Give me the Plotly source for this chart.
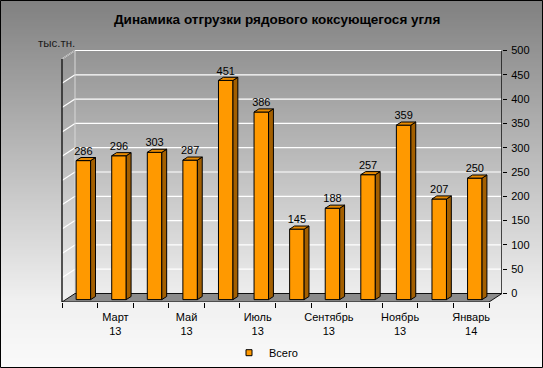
import plotly.graph_objects as go

# ---------------- data ----------------
months = ["Февраль 13", "Март 13", "Апрель 13", "Май 13", "Июнь 13", "Июль 13",
          "Август 13", "Сентябрь 13", "Октябрь 13", "Ноябрь 13", "Декабрь 13", "Январь 14"]
values = [286, 296, 303, 287, 451, 386, 145, 188, 257, 359, 207, 250]
y_ticks = [0, 50, 100, 150, 200, 250, 300, 350, 400, 450, 500]
series_name = "Всего"
title_text = "Динамика отгрузки рядового коксующегося угля"
unit_text = "тыс.тн."

# ---------------- layout geometry (pixels) ----------------
W, H = 543, 368
ML, MR, MT, MB = 50, 41, 45, 66
PW, PH = W - ML - MR, H - MT - MB
BACK_L, BACK_R = 75, W - MR          # back wall horizontal extent
Y0_PX, YMAX_PX = 293.5, 50.5          # back wall: 0 and 500
n = len(values)
U = (BACK_R - BACK_L) / n             # px per category
K = (Y0_PX - YMAX_PX) / y_ticks[-1]   # px per value unit
PLOT_BOTTOM = H - MB

x_range = [-0.5 - (BACK_L - ML) / U, -0.5 + (ML + PW - BACK_L) / U]
y_range = [-(PLOT_BOTTOM - Y0_PX) / K, (Y0_PX - MT) / K]


def off(dx_px, dy_px):
    return dx_px / U, -dy_px / K


FX, FY = off(-13, 8.5)      # front plane offset
BX, BY = off(-9.4, 6.1)     # bar front face offset
BBX, BBY = off(-4.55, 3.0)  # bar back face offset
BW = 14.5 / U
DX, DY = BBX - BX, BBY - BY
XL, XR = -0.5, n - 0.5
YTOP = y_ticks[-1]

FONT = "Arial, Liberation Sans, sans-serif"

fig = go.Figure()

# bar front faces
fig.add_trace(go.Bar(
    x=[i + BX for i in range(n)], y=values, base=BY, width=BW,
    marker=dict(color="#FF9900", line=dict(color="black", width=1)),
    showlegend=False, hoverinfo="skip"))

# side faces and top faces
sx, sy, tx, ty = [], [], [], []
for i, v in enumerate(values):
    xl = i + BX - BW / 2
    xr = i + BX + BW / 2
    sx += [xr, xr + DX, xr + DX, xr, xr, None]
    sy += [BY, BBY, v + BBY, v + BY, BY, None]
    tx += [xl, xl + DX, xr + DX, xr, xl, None]
    ty += [v + BY, v + BBY, v + BBY, v + BY, v + BY, None]
fig.add_trace(go.Scatter(x=sx, y=sy, mode="lines", fill="toself", fillcolor="#A35F00",
                         line=dict(color="black", width=1), showlegend=False, hoverinfo="skip"))
fig.add_trace(go.Scatter(x=tx, y=ty, mode="lines", fill="toself", fillcolor="#E88A00",
                         line=dict(color="black", width=1), showlegend=False, hoverinfo="skip"))

# data labels
fig.add_trace(go.Scatter(
    x=[i + BX for i in range(n)], y=[v + BBY for v in values], mode="text",
    text=[str(v) for v in values], textposition="top center",
    textfont=dict(family=FONT, size=11, color="black"),
    cliponaxis=False, showlegend=False, hoverinfo="skip"))

# legend entry
fig.add_trace(go.Scatter(
    x=[None], y=[None], mode="markers", name=series_name,
    marker=dict(symbol="square", size=6, color="#FF9900", line=dict(color="black", width=1))))

# ---------------- background & frame shapes ----------------
shapes = []


def py2paper(py):
    return (PLOT_BOTTOM - py) / PH


def px2paper(px):
    return (px - ML) / PW


def gray(py):
    if py <= 300:
        g = 128 + (240 - 128) * py / 300
    else:
        g = 240 + (250 - 240) * (py - 300) / (H - 300)
    g = int(round(g))
    return f"rgb({g},{g},{g})"


step = 2
for py in range(0, H, step):
    shapes.append(dict(type="rect", xref="paper", yref="paper", layer="below",
                       x0=px2paper(0), x1=px2paper(W),
                       y0=py2paper(py + step), y1=py2paper(py),
                       fillcolor=gray(py + step / 2), line=dict(width=0)))

# gridlines on back wall and side wall
for v in y_ticks:
    if v > 0:
        shapes.append(dict(type="line", xref="x", yref="y", layer="below",
                           x0=XL, x1=XR, y0=v, y1=v, line=dict(color="white", width=1.2)))
    shapes.append(dict(type="line", xref="x", yref="y", layer="below",
                       x0=XL + FX, x1=XL, y0=v + FY, y1=v, line=dict(color="white", width=1.2)))
# side wall back edge and top edge
shapes.append(dict(type="line", xref="x", yref="y", layer="below",
                   x0=XL, x1=XL, y0=0, y1=YTOP, line=dict(color="#d8d8d8", width=1)))
shapes.append(dict(type="line", xref="x", yref="y", layer="below",
                   x0=XL + FX, x1=XL, y0=YTOP + FY, y1=YTOP, line=dict(color="#a0a0a0", width=1)))
# side wall front edge
shapes.append(dict(type="line", xref="x", yref="y", layer="below",
                   x0=XL + FX, x1=XL + FX, y0=FY, y1=YTOP + FY, line=dict(color="#202020", width=1.5)))
# floor
shapes.append(dict(type="path", xref="x", yref="y", layer="below",
                   path=f"M{XL + FX},{FY} L{XR + FX},{FY} L{XR},0 L{XL},0 Z",
                   fillcolor="#8c8c8c", line=dict(color="#101010", width=1)))
# right value axis line
shapes.append(dict(type="line", xref="x", yref="y", layer="above",
                   x0=XR, x1=XR, y0=0, y1=YTOP, line=dict(color="#101010", width=1.5)))
# outer border
shapes.append(dict(type="rect", xref="paper", yref="paper", layer="above",
                   x0=px2paper(0.5), x1=px2paper(W - 0.5),
                   y0=py2paper(H - 0.5), y1=py2paper(0.5),
                   line=dict(color="black", width=1), fillcolor="rgba(0,0,0,0)"))

label_idx = list(range(1, n, 2))
fig.update_layout(
    width=W, height=H,
    margin=dict(l=ML, r=MR, t=MT, b=MB, pad=0, autoexpand=False),
    paper_bgcolor="white", plot_bgcolor="rgba(0,0,0,0)",
    shapes=shapes,
    font=dict(family=FONT, size=11, color="black"),
    xaxis=dict(range=x_range, showgrid=False, zeroline=False, showline=False,
               automargin=False, tickmode="array",
               tickvals=[i + FX for i in label_idx],
               ticktext=[months[i].replace(" ", "<br>") for i in label_idx],
               ticks="", ticklabelstandoff=7,
               tickfont=dict(family=FONT, size=11, color="black")),
    yaxis=dict(range=y_range, side="right", showgrid=False, zeroline=False, showline=False,
               automargin=False, tickmode="array", tickvals=y_ticks, ticks="outside",
               ticklen=4, tickcolor="black", ticklabelstandoff=2,
               tickfont=dict(family=FONT, size=11, color="black")),
    legend=dict(orientation="h", x=px2paper(229), xanchor="left",
                y=py2paper(352.7), yanchor="middle", bgcolor="rgba(0,0,0,0)",
                font=dict(family=FONT, size=11, color="black")),
    annotations=[
        dict(text="<b>" + title_text + "</b>", xref="paper", yref="paper",
             x=px2paper(277), y=py2paper(20), xanchor="center", yanchor="middle",
             showarrow=False, font=dict(family=FONT, size=13.5, color="black")),
        dict(text=unit_text, xref="paper", yref="paper",
             x=px2paper(56), y=py2paper(43), xanchor="center", yanchor="middle",
             showarrow=False, font=dict(family=FONT, size=11.5, color="#1a1a1a")),
    ],
    showlegend=True,
)
fig.update_xaxes(minor=dict(tickmode="array", tickvals=[i - 0.5 + FX for i in range(n + 1)],
                            ticks="outside", ticklen=5, tickcolor="black", tickwidth=1,
                            showgrid=False))

fig.write_html("out.html", config={"displayModeBar": False},
               post_script="document.body.style.margin='0px';document.body.style.overflow='hidden';")
